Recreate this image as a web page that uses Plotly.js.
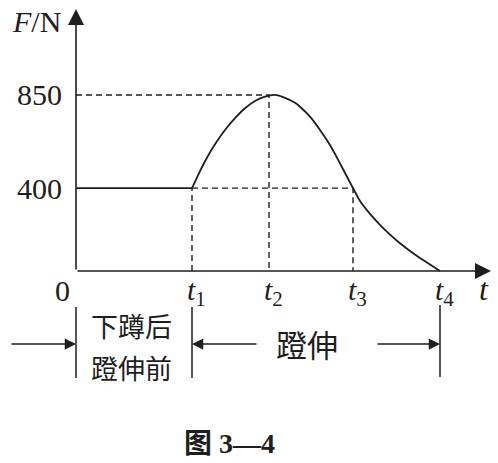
<!DOCTYPE html>
<html><head><meta charset="utf-8">
<script src="https://cdn.plot.ly/plotly-3.0.1.min.js"></script>
<style>html,body{margin:0;padding:0;background:#fff;}#chart{width:498px;height:463px;}</style>
</head><body><div id="chart"></div>
<script>
// ---- data ----
const tNames = ["1","2","3","4"];
const tTicks = [11.6, 19.3, 27.7, 36.4];        // t1..t4
const fTicks = [400, 850];                       // y tick values
const fTickLabels = ["400", "850"];
const flatT = [0, 11.6];
const flatF = [400, 400];
const curveT = [11.6, 12.2, 12.9, 13.9, 14.9, 15.9, 16.9, 17.9, 18.9, 19.9, 20.9, 21.9, 22.4, 23.4, 24.4, 25.4, 26.4, 27.1, 27.7, 28.4, 29.4, 30.4, 31.4, 32.4, 33.4, 34.4, 35.4, 36.4];
const curveF = [400, 462, 530, 612, 681, 738, 786, 821, 842, 850, 836, 812, 793, 745, 681, 608, 520, 455, 400, 338, 276, 223, 176, 134, 97, 63, 31, 0];
const phaseLabels = ["下蹲后", "蹬伸前", "蹬伸"];
const caption = "<b>图 3—4</b>";

// ---- layout helpers ----
const W = 498, H = 463;
const py = p => (H - p) / H;
const INK = "#1e1e1e";
const SERIF = "Liberation Serif, Times New Roman, serif";
const CJK = "Noto Sans CJK SC, sans-serif";

const dashStyle = {color: INK, width: 1.4, dash: "6px,4px"};
const traces = [
  {x: [0, tTicks[1], tTicks[1]], y: [fTicks[1], fTicks[1], 0], mode: "lines", line: dashStyle},
  {x: [tTicks[0], tTicks[0], null, tTicks[0], tTicks[2], tTicks[2]], y: [0, fTicks[0], null, fTicks[0], fTicks[0], 0], mode: "lines", line: dashStyle},
  {x: flatT, y: flatF, mode: "lines", line: {color: INK, width: 1.8}},
  {x: curveT, y: curveF, mode: "lines", line: {color: INK, width: 1.8, shape: "spline", smoothing: 0.5}}
].map(t => Object.assign({hoverinfo: "skip", showlegend: false}, t));

const ann = [];
const arrowBase = {text: "", showarrow: true, arrowhead: 2, arrowcolor: INK, standoff: 0};
// axes arrows
ann.push(Object.assign({x: 41.5, y: 0, ax: 0, ay: 0, axref: "x", ayref: "y", xref: "x", yref: "y", arrowsize: 2, arrowwidth: 1.6}, arrowBase));
ann.push(Object.assign({x: 0, y: 1265, ax: 0, ay: 0, axref: "x", ayref: "y", xref: "x", yref: "y", arrowsize: 2, arrowwidth: 1.6}, arrowBase));
// y tick labels
fTicks.forEach((v, i) => ann.push({x: 0, y: v, xref: "x", yref: "y", text: fTickLabels[i], showarrow: false, xanchor: "right", yanchor: "middle", xshift: -12, font: {family: SERIF, size: 30, color: INK}}));
ann.push({x: 0, y: 0, xref: "x", yref: "y", text: "0", showarrow: false, xanchor: "center", yanchor: "top", xshift: -14, yshift: -1, font: {family: SERIF, size: 30, color: INK}});
// x tick labels
tTicks.forEach((v, i) => ann.push({x: v, y: 0, xref: "x", yref: "y", text: "<i>t</i><sub>" + tNames[i] + "</sub>", showarrow: false, xanchor: "center", yanchor: "top", xshift: 4, yshift: 0, font: {family: SERIF, size: 30, color: INK}}));
// axis titles
ann.push({x: 484 / W, y: py(289), xref: "paper", yref: "paper", xanchor: "center", yanchor: "middle", text: "<i>t</i>", showarrow: false, font: {family: SERIF, size: 32, color: INK}});
ann.push({x: 36 / W, y: py(22), xref: "paper", yref: "paper", xanchor: "center", yanchor: "middle", text: "<i>F</i>/N", showarrow: false, font: {family: SERIF, size: 30, color: INK}});
// phase arrows
const arrY = py(344);
ann.push(Object.assign({x: 0, y: arrY, xref: "x", yref: "paper", ax: -66, ay: 0, arrowsize: 1.5, arrowwidth: 1.5}, arrowBase));
ann.push(Object.assign({x: tTicks[0], y: arrY, xref: "x", yref: "paper", ax: 66, ay: 0, arrowsize: 1.5, arrowwidth: 1.5}, arrowBase));
ann.push(Object.assign({x: tTicks[3], y: arrY, xref: "x", yref: "paper", ax: -64, ay: 0, arrowsize: 1.5, arrowwidth: 1.5}, arrowBase));
// phase labels
ann.push({x: tTicks[0] / 2, y: py(326), xref: "x", yref: "paper", xanchor: "center", yanchor: "middle", text: phaseLabels[0], showarrow: false, font: {family: CJK, size: 27, color: INK}, xshift: -3});
ann.push({x: tTicks[0] / 2, y: py(367), xref: "x", yref: "paper", xanchor: "center", yanchor: "middle", text: phaseLabels[1], showarrow: false, font: {family: CJK, size: 27, color: INK}, xshift: -3});
ann.push({x: (tTicks[0] + tTicks[3]) / 2, y: arrY, xref: "x", yref: "paper", xanchor: "center", yanchor: "middle", text: phaseLabels[2], showarrow: false, font: {family: CJK, size: 31, color: INK}, xshift: -9});
// caption
ann.push({x: 229 / W, y: py(443), xref: "paper", yref: "paper", xanchor: "center", yanchor: "middle", text: caption, showarrow: false, font: {family: SERIF + ", " + CJK, size: 28, color: INK}});

// bracket bars
const shapes = [
  {type: "line", xref: "x", yref: "paper", x0: 0, x1: 0, y0: py(307), y1: py(378), line: {color: INK, width: 1.5}},
  {type: "line", xref: "x", yref: "paper", x0: tTicks[0], x1: tTicks[0], y0: py(307), y1: py(378), line: {color: INK, width: 1.5}},
  {type: "line", xref: "x", yref: "paper", x0: tTicks[3], x1: tTicks[3], y0: py(305), y1: py(377), line: {color: INK, width: 1.5}}
];

const layout = {
  width: W, height: H,
  margin: {l: 0, r: 0, t: 0, b: 0},
  paper_bgcolor: "#fff", plot_bgcolor: "#fff",
  xaxis: {range: [-7.6, 42.2], visible: false, fixedrange: true},
  yaxis: {range: [-927, 1308.5], visible: false, fixedrange: true},
  annotations: ann,
  shapes: shapes,
  showlegend: false
};
Plotly.newPlot("chart", traces, layout, {staticPlot: true});
</script></body></html>
